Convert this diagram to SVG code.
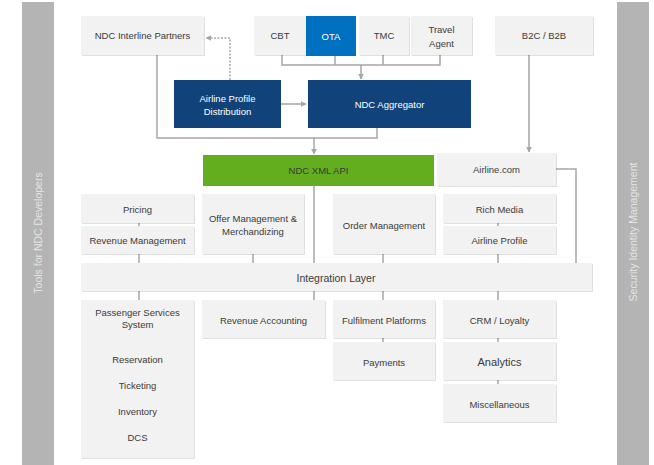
<svg xmlns="http://www.w3.org/2000/svg" width="654" height="465" viewBox="0 0 654 465">
<style>
.bar{fill:#B4B4B4}
.box{fill:#F2F2F2;filter:url(#sh)}
.t{font-family:"Liberation Sans",Arial,sans-serif;font-size:9.5px;fill:#3A3A3A;text-anchor:middle;dominant-baseline:central}
.w{fill:#FFFFFF}
.vt{font-family:"Liberation Sans",Arial,sans-serif;font-size:10.5px;fill:#E4E4E4;text-anchor:middle;dominant-baseline:central}
.c{fill:none;stroke:#A6A6A6;stroke-width:1.5}
.d{fill:none;stroke:#A6A6A6;stroke-width:1.5;stroke-dasharray:2 1.5}
</style>
<defs>
<filter id="sh" x="-5%" y="-5%" width="110%" height="115%">
<feDropShadow dx="1" dy="1" stdDeviation="0.6" flood-color="#000" flood-opacity="0.12"/>
</filter>
<marker id="a" viewBox="0 0 10 10" refX="9" refY="5" markerWidth="4" markerHeight="4" orient="auto">
<path d="M0,0 L10,5 L0,10 z" fill="#A6A6A6"/>
</marker>
</defs>
<rect width="654" height="465" fill="#FFFFFF"/>

<g id="tools">
<rect class="bar" x="22" y="2" width="32" height="463"/>
<text class="vt" transform="translate(38,233) rotate(-90)">Tools for NDC Developers</text>
</g>
<g id="security">
<rect class="bar" x="617" y="2" width="32" height="463"/>
<text class="vt" transform="translate(633,232) rotate(-90)">Security Identity Management</text>
</g>

<g id="connectors">
<polyline class="c" points="282,55 282,65 440,65 440,55"/>
<line class="c" x1="335" y1="56" x2="335" y2="65"/>
<line class="c" x1="383" y1="55" x2="383" y2="65"/>
<line class="c" x1="361" y1="65" x2="361" y2="79" marker-end="url(#a)"/>
<line class="c" x1="281" y1="104" x2="306" y2="104" marker-end="url(#a)"/>
<polyline class="d" points="230,80 230,38 206,38" marker-end="url(#a)"/>
<polyline class="c" points="157,55 157,138 377,138 377,128"/>
<line class="c" x1="314" y1="138" x2="314" y2="154" marker-end="url(#a)"/>
<line class="c" x1="529" y1="55" x2="529" y2="152" marker-end="url(#a)"/>
<polyline class="c" points="556,169 576,169 576,263"/>
<line class="c" x1="314" y1="186" x2="314" y2="300"/>
<line class="c" x1="139" y1="223" x2="139" y2="226"/>
<line class="c" x1="139" y1="254" x2="139" y2="263"/>
<line class="c" x1="253" y1="254" x2="253" y2="263"/>
<line class="c" x1="383" y1="254" x2="383" y2="263"/>
<line class="c" x1="498" y1="223" x2="498" y2="226"/>
<line class="c" x1="498" y1="254" x2="498" y2="263"/>
<line class="c" x1="139" y1="291" x2="139" y2="300"/>
<line class="c" x1="383" y1="291" x2="383" y2="300"/>
<line class="c" x1="498" y1="291" x2="498" y2="300"/>
<line class="c" x1="383" y1="338" x2="383" y2="342"/>
<line class="c" x1="498" y1="338" x2="498" y2="342"/>
<line class="c" x1="498" y1="380" x2="498" y2="384"/>
</g>

<g id="interline"><rect class="box" x="81" y="16" width="123" height="39"/><text class="t" x="142.5" y="35.5">NDC Interline Partners</text></g>
<g id="cbt"><rect class="box" x="254" y="16" width="52" height="39"/><text class="t" x="280" y="35.5">CBT</text></g>
<g id="ota"><rect x="306" y="16" width="50" height="40" fill="#0070C0"/><text class="t w" x="331" y="36">OTA</text></g>
<g id="tmc"><rect class="box" x="359" y="16" width="50" height="39"/><text class="t" x="384" y="35.5">TMC</text></g>
<g id="travelagent"><rect class="box" x="411" y="16" width="61" height="39"/><text class="t" x="441.5" y="29.5">Travel</text><text class="t" x="441.5" y="43">Agent</text></g>
<g id="b2c"><rect class="box" x="495" y="16" width="98" height="39"/><text class="t" x="544" y="35.5">B2C / B2B</text></g>

<g id="apd"><rect x="174" y="80" width="107" height="48" fill="#11437A"/><text class="t w" x="227.5" y="98">Airline Profile</text><text class="t w" x="227.5" y="111.5">Distribution</text></g>
<g id="aggregator"><rect x="308" y="80" width="163" height="48" fill="#11437A"/><text class="t w" x="389.5" y="104.5">NDC Aggregator</text></g>

<g id="xmlapi"><rect x="203" y="155" width="231" height="31" fill="#62AE1F"/><text class="t" x="318.5" y="170.5" fill="#222">NDC XML API</text></g>
<g id="airlinecom"><rect class="box" x="437" y="153" width="119" height="33"/><text class="t" x="496.5" y="169.5">Airline.com</text></g>

<g id="pricing"><rect class="box" x="81" y="194" width="113" height="29"/><text class="t" x="137.5" y="209">Pricing</text></g>
<g id="revmgmt"><rect class="box" x="81" y="226" width="113" height="28"/><text class="t" x="137.5" y="240.5">Revenue Management</text></g>
<g id="offer"><rect class="box" x="202" y="194" width="102" height="60"/><text class="t" x="253" y="218">Offer Management &amp;</text><text class="t" x="253" y="231">Merchandizing</text></g>
<g id="order"><rect class="box" x="333" y="194" width="102" height="60"/><text class="t" x="384" y="225">Order Management</text></g>
<g id="richmedia"><rect class="box" x="443" y="194" width="113" height="29"/><text class="t" x="499.5" y="209">Rich Media</text></g>
<g id="airlineprofile"><rect class="box" x="443" y="226" width="113" height="28"/><text class="t" x="499.5" y="240.5">Airline Profile</text></g>

<g id="integration"><rect class="box" x="81" y="263" width="511" height="28"/><text class="t" x="336" y="277.5" style="font-size:10.5px">Integration Layer</text></g>

<g id="pss"><rect class="box" x="81" y="300" width="113" height="158"/>
<text class="t" x="137.5" y="312">Passenger Services</text><text class="t" x="137.5" y="324">System</text>
<text class="t" x="137.5" y="359">Reservation</text><text class="t" x="137.5" y="385">Ticketing</text>
<text class="t" x="137.5" y="411">Inventory</text><text class="t" x="137.5" y="437">DCS</text></g>
<g id="revacc"><rect class="box" x="202" y="300" width="123" height="38"/><text class="t" x="263.5" y="320">Revenue Accounting</text></g>
<g id="fulfilment"><rect class="box" x="333" y="300" width="102" height="38"/><text class="t" x="384" y="320">Fulfilment Platforms</text></g>
<g id="payments"><rect class="box" x="333" y="342" width="102" height="38"/><text class="t" x="384" y="362">Payments</text></g>
<g id="crm"><rect class="box" x="443" y="300" width="113" height="38"/><text class="t" x="499.5" y="320">CRM / Loyalty</text></g>
<g id="analytics"><rect class="box" x="443" y="342" width="113" height="38"/><text class="t" x="499.5" y="362" style="font-size:11px">Analytics</text></g>
<g id="misc"><rect class="box" x="443" y="384" width="113" height="38"/><text class="t" x="499.5" y="404">Miscellaneous</text></g>
</svg>
